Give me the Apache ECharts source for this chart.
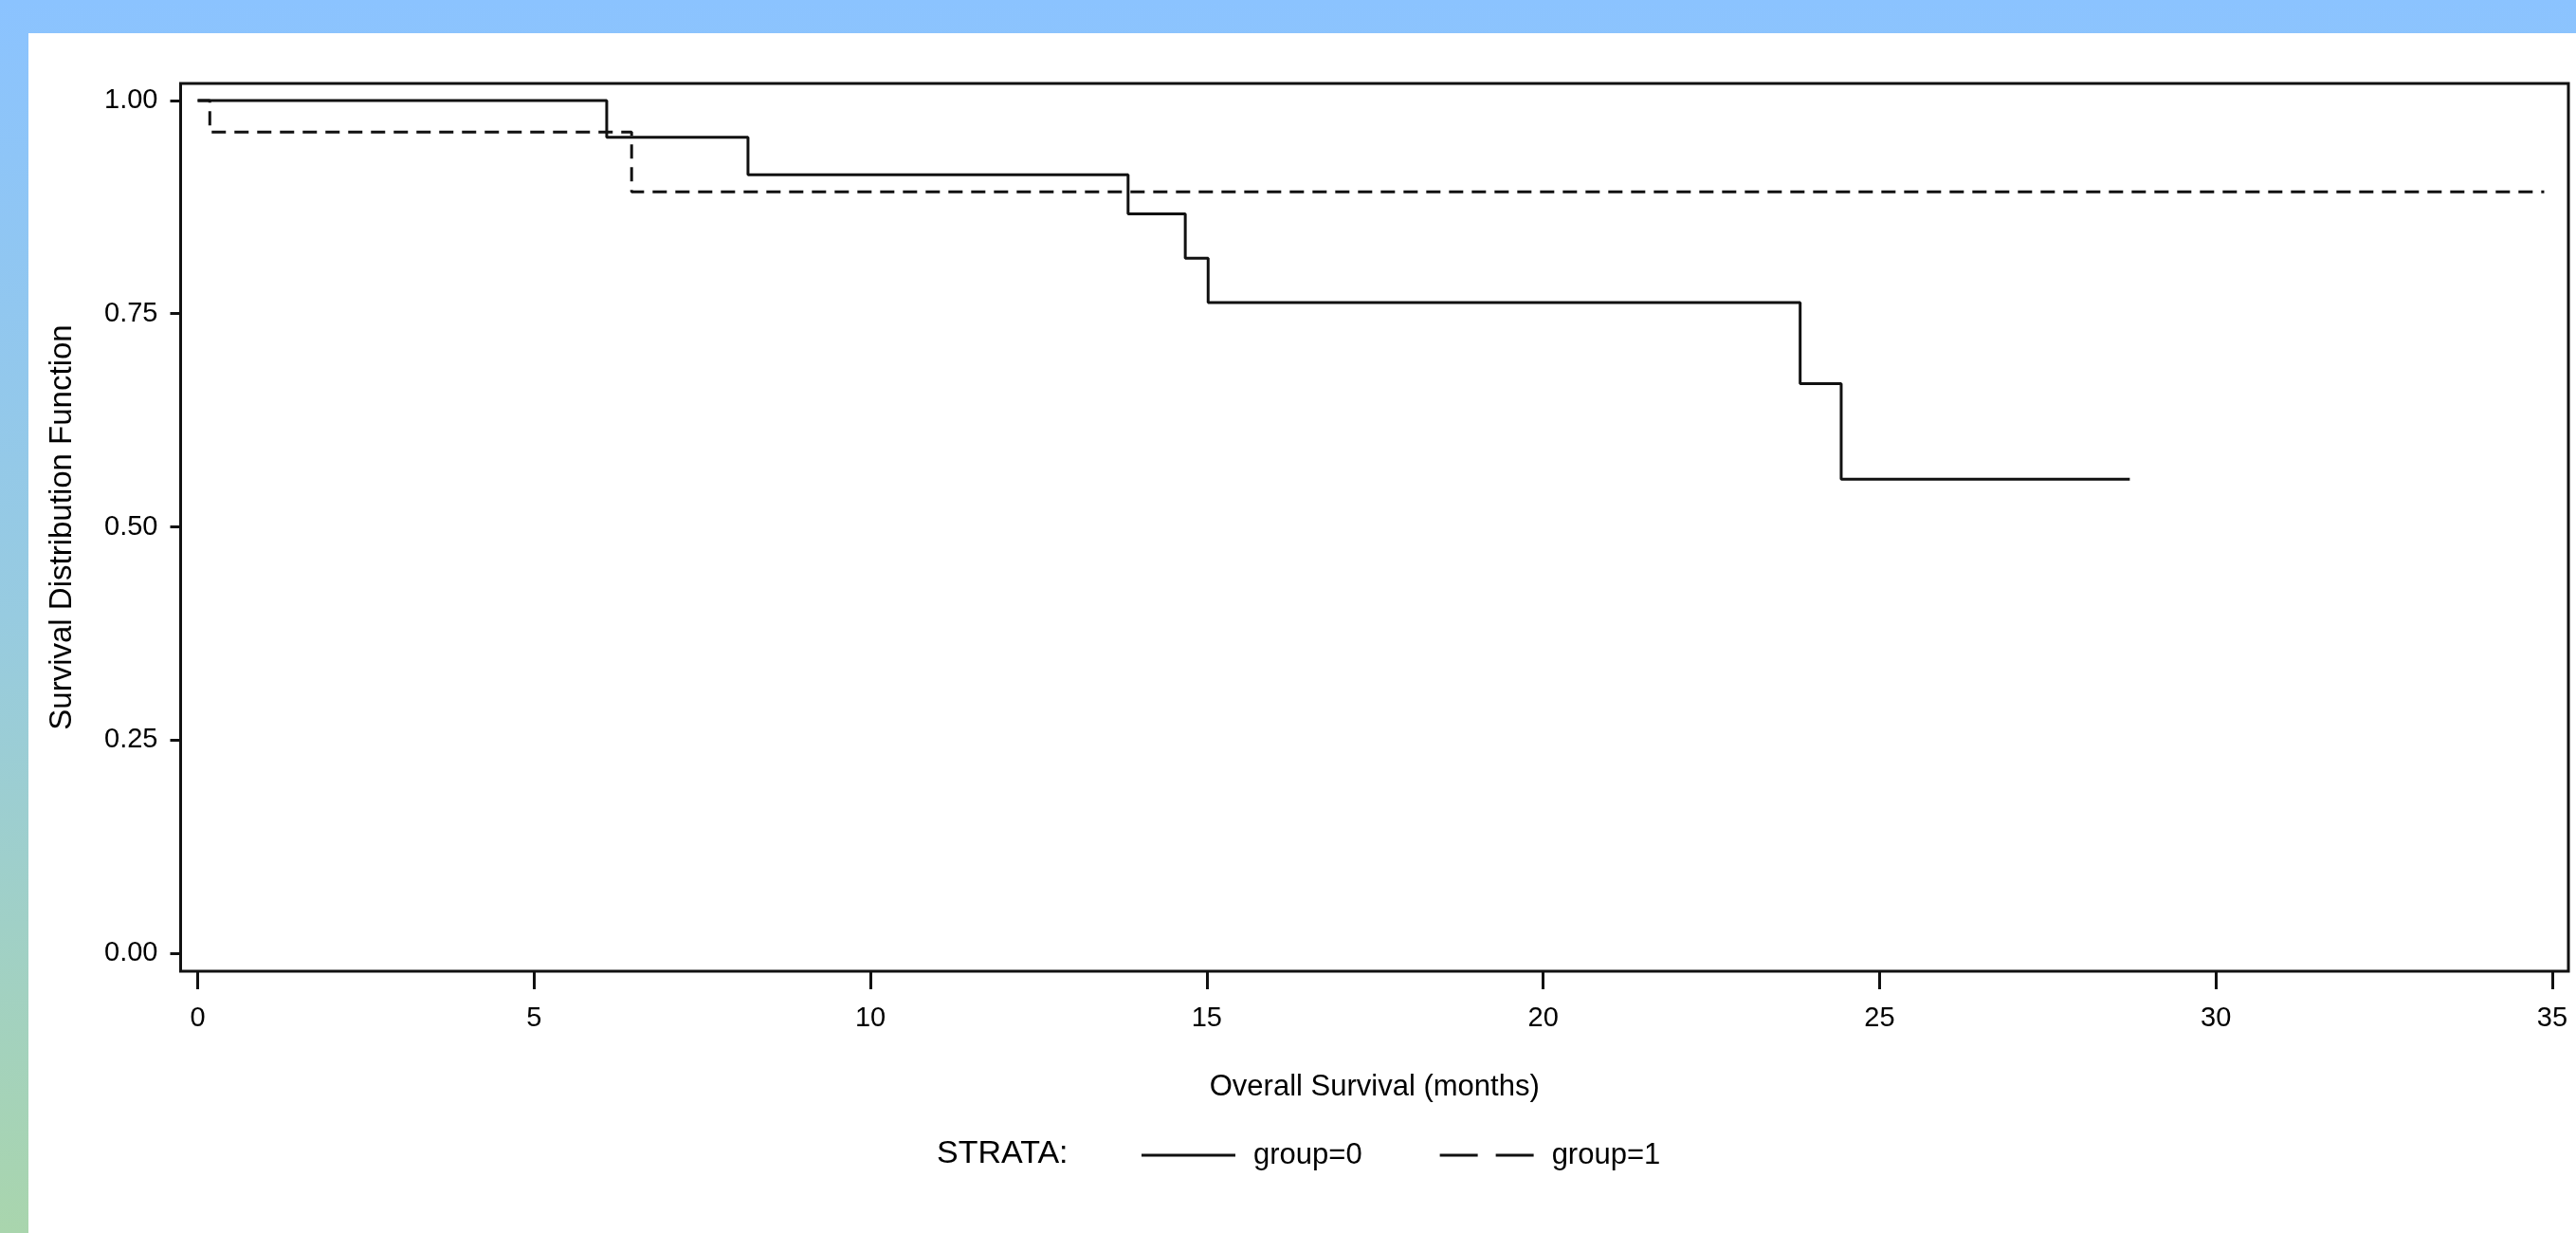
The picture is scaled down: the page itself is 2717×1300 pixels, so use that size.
<!DOCTYPE html>
<html>
<head>
<meta charset="utf-8">
<script src="https://cdn.jsdelivr.net/npm/echarts@6/dist/echarts.min.js"></script>
<style>
html, body { margin: 0; padding: 0; width: 2717px; height: 1300px; overflow: hidden;
  background: linear-gradient(to bottom, #8BC3FF 0%, #97CBE0 50%, #A9D5AD 100%); }
#chart { position: absolute; left: 30px; top: 35px; width: 2687px; height: 1265px; background: #ffffff; }
</style>
</head>
<body>
<div id="chart"></div>
<script>
// ---- data ----
const group0Times = [0, 6.08, 8.18, 13.83, 14.68, 15.02, 23.82, 24.43, 28.72];
const group0Surv  = [1, 0.957, 0.913, 0.867, 0.815, 0.763, 0.668, 0.556, 0.556];
const group1Times = [0, 0.18, 6.45, 34.88];
const group1Surv  = [1, 0.963, 0.893, 0.893];
const xTicks = [0, 5, 10, 15, 20, 25, 30, 35];
const yTicks = [0, 0.25, 0.5, 0.75, 1];
const seriesNames = ['group=0', 'group=1'];
const xTitle = 'Overall Survival (months)';
const yTitle = 'Survival Distribution Function';
const legendTitle = 'STRATA:';

const FONT = 'Liberation Sans, Arial, sans-serif';
const chart = echarts.init(document.getElementById('chart'), null, { renderer: 'canvas' });

const toPairs = (ts, ss) => ts.map((t, i) => [t, ss[i]]);

chart.setOption({
  animation: false,
  backgroundColor: '#ffffff',
  grid: {
    left: 160.5, top: 53, right: 8, bottom: 276,
    show: true, borderColor: '#111', borderWidth: 3, backgroundColor: 'transparent'
  },
  xAxis: {
    type: 'value', min: -0.254, max: 35.24,
    name: xTitle, nameLocation: 'middle', nameGap: 107,
    nameTextStyle: { fontFamily: FONT, fontSize: 31, color: '#000' },
    axisLine: { show: false, onZero: false },
    splitLine: { show: false },
    axisTick: { show: true, length: 19, lineStyle: { color: '#111', width: 3 }, customValues: xTicks },
    axisLabel: { customValues: xTicks, margin: 35, fontFamily: FONT, fontSize: 29, color: '#000' }
  },
  yAxis: {
    type: 'value', min: -0.0211, max: 1.02,
    name: yTitle, nameLocation: 'middle', nameGap: 108,
    nameTextStyle: { fontFamily: FONT, fontSize: 33, color: '#000' },
    axisLine: { show: false, onZero: false },
    splitLine: { show: false },
    axisTick: { show: true, length: 11, lineStyle: { color: '#111', width: 3 }, customValues: yTicks },
    axisLabel: { customValues: yTicks, margin: 24, fontFamily: FONT, fontSize: 29, color: '#000',
      formatter: v => Number(v).toFixed(2) }
  },
  legend: {
    left: 1169, top: 1162.5,
    itemWidth: 99, itemHeight: 3, itemGap: 82,
    symbolKeepAspect: false,
    textStyle: { fontFamily: FONT, fontSize: 31, color: '#000', padding: [0, 0, 0, 14] },
    data: [
      { name: seriesNames[0], icon: 'path://M0,0H99V3H0Z' },
      { name: seriesNames[1], icon: 'path://M0,0H40V3H0Z M59,0H99V3H59Z' }
    ]
  },
  graphic: [{
    type: 'text', left: 958, top: 1165,
    style: { text: legendTitle, font: '34px ' + FONT, fill: '#000' }
  }],
  series: [
    {
      name: seriesNames[0], type: 'line', step: 'end', symbol: 'none',
      color: '#111',
      lineStyle: { color: '#111', width: 3, type: 'solid' },
      data: toPairs(group0Times, group0Surv), z: 3
    },
    {
      name: seriesNames[1], type: 'line', step: 'end', symbol: 'none',
      color: '#111',
      lineStyle: { color: '#111', width: 3, type: [15, 9] },
      data: toPairs(group1Times, group1Surv), z: 2
    }
  ]
});
</script>
</body>
</html>
